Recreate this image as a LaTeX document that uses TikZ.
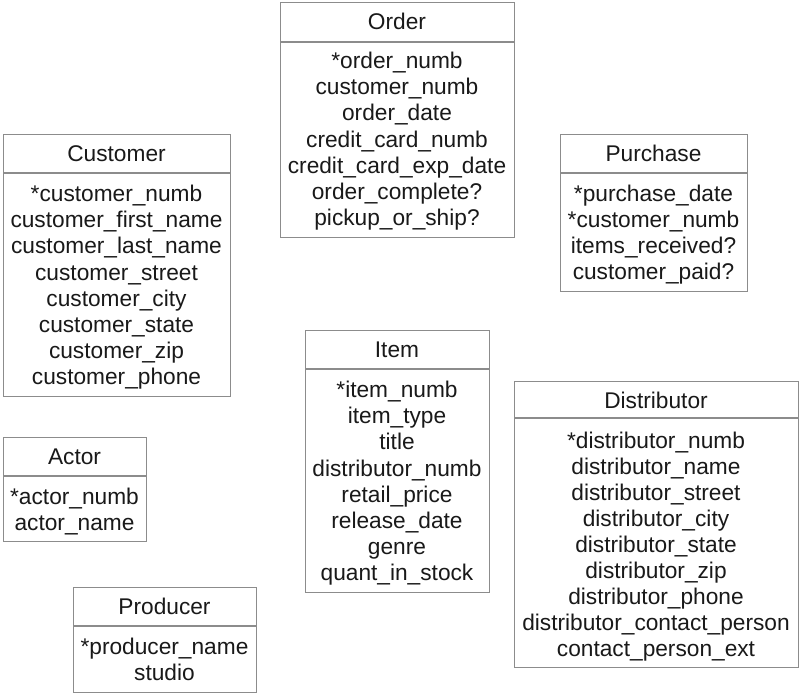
\documentclass[tikz,border=0pt]{standalone}
\usepackage{fontspec}
\setmainfont{Liberation Sans}
\tikzset{
  ebox/.style={draw=black!45, line width=1.3pt, inner sep=0pt, fill=none},
  eline/.style={draw=black!45, line width=1.3pt},
  etext/.style={anchor=base, inner sep=0pt, text=black!90, font=\fontsize{22.7}{26}\selectfont},
}
% #1 name, #2 x1, #3 y1, #4 x2, #5 header y, #6 y2, #7 title, #8 first baseline, #9 list
\newcommand\erentity[9]{%
  \node[ebox, anchor=north west, minimum width={(#4-#2)*1pt}, minimum height={(#6-#3)*1pt}] (#1) at (#2,#3) {};
  \draw[eline] (#2,#5) -- (#4,#5);
  \node[etext] (#1-t) at ({(#2+#4)/2},{#3+27.5}) {#7};
  \foreach \a [count=\i] in {#9} {
    \node[etext] (#1-\i) at ({(#2+#4)/2},{#8+(\i-1)*26.1}) {\a};
  }
}
\begin{document}
\begin{tikzpicture}[x=1pt,y=-1pt]
\useasboundingbox (0,0) rectangle (800,694);
\fill[white] (0,0) rectangle (800,694);
\erentity{order}{280}{2}{514}{42}{237}{Order}{68.7}{{*order\_numb},{customer\_numb},{order\_date},{credit\_card\_numb},{credit\_card\_exp\_date},{order\_complete?},{pickup\_or\_ship?}}
\erentity{customer}{3}{134}{230}{173}{396}{Customer}{201.7}{{*customer\_numb},{customer\_first\_name},{customer\_last\_name},{customer\_street},{customer\_city},{customer\_state},{customer\_zip},{customer\_phone}}
\erentity{purchase}{560}{134}{747}{173}{291}{Purchase}{201.3}{{*purchase\_date},{*customer\_numb},{items\_received?},{customer\_paid?}}
\erentity{item}{305}{330}{489}{369}{592}{Item}{397.7}{{*item\_numb},{item\_type},{title},{distributor\_numb},{retail\_price},{release\_date},{genre},{quant\_in\_stock}}
\erentity{distributor}{514}{381}{798}{418}{667}{Distributor}{448}{{*distributor\_numb},{distributor\_name},{distributor\_street},{distributor\_city},{distributor\_state},{distributor\_zip},{distributor\_phone},{distributor\_contact\_person},{contact\_person\_ext}}
\erentity{actor}{3}{437}{146}{476}{541}{Actor}{504.5}{{*actor\_numb},{actor\_name}}
\erentity{producer}{73}{587}{256}{626}{692}{Producer}{654}{{*producer\_name},{studio}}
\end{tikzpicture}
\end{document}
